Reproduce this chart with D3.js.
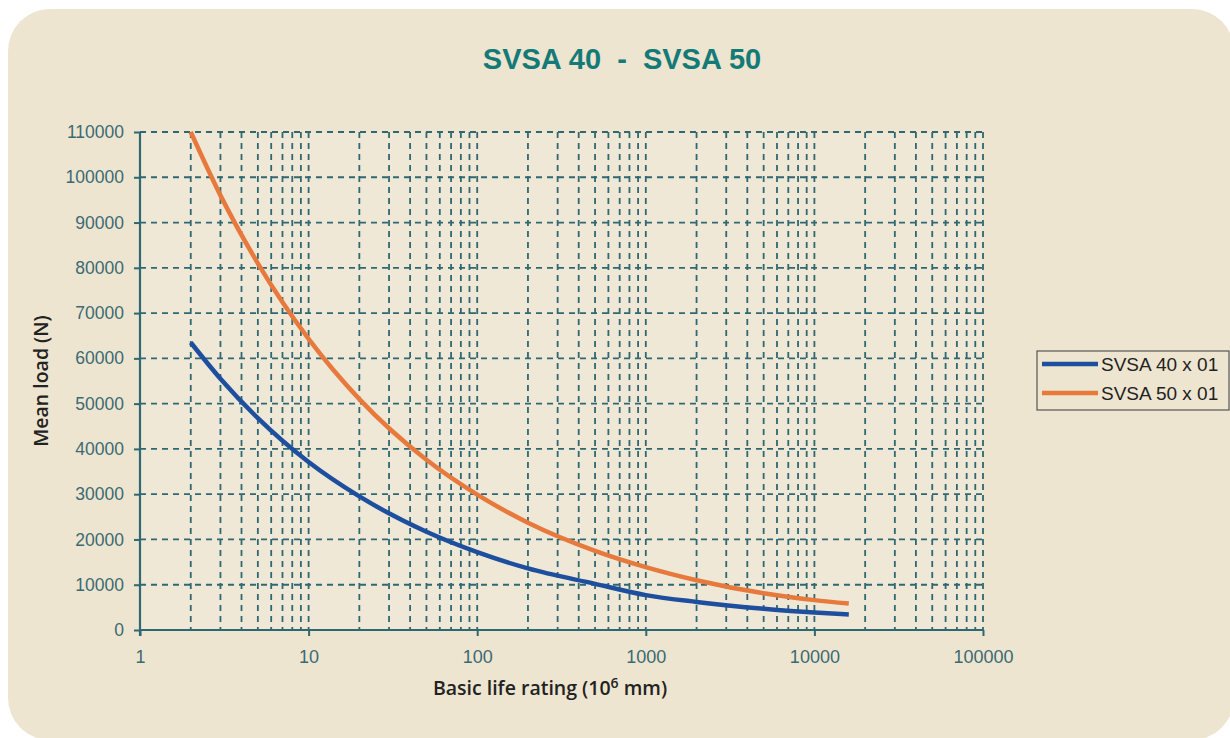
<!DOCTYPE html>
<html>
<head>
<meta charset="utf-8">
<script src="https://cdn.jsdelivr.net/npm/d3@7/dist/d3.min.js"></script>
<style>
html,body{margin:0;padding:0;background:#fff;}
svg{display:block;}
</style>
</head>
<body>
<svg id="chart" width="1230" height="738"></svg>
<script>
const title = "SVSA 40  -  SVSA 50";
const seriesNames = ["SVSA 40 x 01", "SVSA 50 x 01"];
const seriesColors = ["#1d4f9e", "#e8793c"];
const lifeValues = [2, 3, 5, 10, 20, 50, 100, 200, 500, 1000, 2000, 5000, 10000, 16000];
const svsa40Load = [63500, 55500, 46800, 37100, 29500, 21700, 17200, 13600, 10200, 7700, 6200, 4700, 3850, 3450];
const svsa50Load = [110000, 96000, 81000, 64300, 51000, 37600, 29900, 23700, 17500, 13900, 11000, 8100, 6600, 5850];
const xTickLabels = ["1", "10", "100", "1000", "10000", "100000"];
const yTickValues = [0, 10000, 20000, 30000, 40000, 50000, 60000, 70000, 80000, 90000, 100000, 110000];

(function () {
const svg = d3.select("#chart");

svg.append("rect").attr("x", 8).attr("y", 9).attr("width", 1226).attr("height", 731)
  .attr("rx", 42).attr("ry", 42).attr("fill", "#eee5d0");

const pLeft = 140, pRight = 983, pTop = 132, pBottom = 630;
const x = d3.scaleLog().domain([1, 100000]).range([pLeft, pRight]);
const y = d3.scaleLinear().domain([0, 110000]).range([pBottom, pTop]);

const gridColor = "#2f6772";
const textColor = "#3b6a74";
const tickFont = "Liberation Sans, Arial, sans-serif";

svg.append("rect").attr("x", pLeft).attr("y", pTop).attr("width", pRight - pLeft).attr("height", pBottom - pTop)
  .attr("fill", "#f0e8d6");

const vGrid = [];
for (let e = 0; e < 5; e++) {
  for (let m = 2; m <= 10; m++) vGrid.push(m * Math.pow(10, e));
}
svg.append("g").selectAll("line").data(vGrid).join("line")
  .attr("x1", d => x(d)).attr("x2", d => x(d))
  .attr("y1", pTop).attr("y2", pBottom)
  .attr("stroke", gridColor).attr("stroke-width", 1.8)
  .attr("stroke-dasharray", "6,5");

svg.append("g").selectAll("line").data(yTickValues.filter(v => v > 0)).join("line")
  .attr("x1", pLeft).attr("x2", pRight)
  .attr("y1", d => y(d)).attr("y2", d => y(d))
  .attr("stroke", gridColor).attr("stroke-width", 1.8)
  .attr("stroke-dasharray", "6,5");

const yAxis = d3.axisLeft(y).tickValues(yTickValues).tickSize(6).tickPadding(10).tickFormat(d3.format("d"));
const gy = svg.append("g").attr("transform", `translate(${pLeft},0)`).call(yAxis);
gy.select(".domain").attr("stroke", gridColor).attr("stroke-width", 2.2).attr("d", `M0,${pTop}V${pBottom + 6}`);
gy.selectAll(".tick line").attr("stroke", gridColor).attr("stroke-width", 2);
gy.selectAll(".tick text").attr("fill", textColor).attr("font-family", tickFont).attr("font-size", 17.5);

const xMajor = xTickLabels.map(Number);
const xAxis = d3.axisBottom(x).tickValues(xMajor).tickSize(6).tickPadding(14).tickFormat((d, i) => xTickLabels[i]);
const gx = svg.append("g").attr("transform", `translate(0,${pBottom})`).call(xAxis);
gx.select(".domain").attr("stroke", gridColor).attr("stroke-width", 2.2).attr("d", `M${pLeft},0H${pRight}`);
gx.selectAll(".tick line").attr("stroke", gridColor).attr("stroke-width", 2);
gx.selectAll(".tick text").attr("fill", textColor).attr("font-family", tickFont).attr("font-size", 18);

const line = d3.line().x(d => x(d[0])).y(d => y(d[1])).curve(d3.curveMonotoneX);
[svsa40Load, svsa50Load].forEach((vals, i) => {
  svg.append("path").datum(lifeValues.map((l, j) => [l, vals[j]]))
    .attr("d", line).attr("fill", "none")
    .attr("stroke", seriesColors[i]).attr("stroke-width", 4.5);
});

svg.append("text").attr("x", 622).attr("y", 69).attr("text-anchor", "middle")
  .attr("font-family", "Liberation Sans, Arial, sans-serif").attr("font-weight", "bold")
  .attr("font-size", 29).attr("fill", "#137a78")
  .style("white-space", "pre").text(title);

const xt = svg.append("text").attr("x", 550).attr("y", 695).attr("text-anchor", "middle")
  .attr("font-family", "Open Sans, Noto Sans, sans-serif").attr("font-weight", 600)
  .attr("font-size", 19.5).attr("fill", "#222");
xt.append("tspan").text("Basic life rating (10");
xt.append("tspan").attr("dy", -7).attr("font-size", 14).text("6");
xt.append("tspan").attr("dy", 7).text(" mm)");

svg.append("text").attr("transform", "translate(48,381) rotate(-90)").attr("text-anchor", "middle")
  .attr("font-family", "Open Sans, Noto Sans, sans-serif").attr("font-weight", 600)
  .attr("font-size", 19.5).attr("fill", "#222").text("Mean load (N)");

const lg = svg.append("g");
lg.append("rect").attr("x", 1037).attr("y", 351).attr("width", 192).attr("height", 59)
  .attr("fill", "none").attr("stroke", "#555").attr("stroke-width", 1.2);
seriesNames.forEach((name, i) => {
  const yy = 364 + i * 29;
  lg.append("line").attr("x1", 1042).attr("x2", 1098).attr("y1", yy).attr("y2", yy)
    .attr("stroke", seriesColors[i]).attr("stroke-width", 4.5);
  lg.append("text").attr("x", 1101).attr("y", yy + 7).attr("font-family", tickFont)
    .attr("font-size", 19).attr("fill", "#222").text(name);
});
})();
</script>
</body>
</html>
